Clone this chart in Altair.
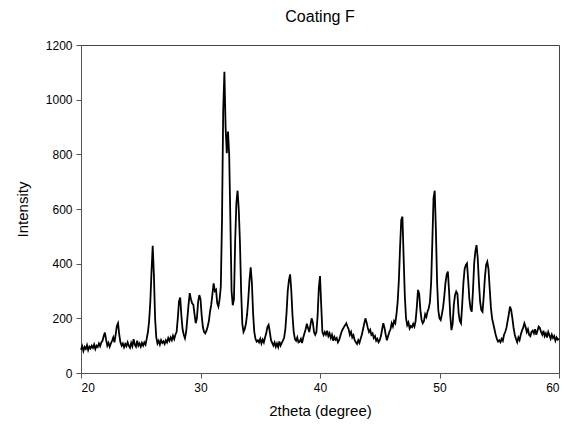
import altair as alt
import pandas as pd

x_start = 20.0
x_step = 0.1

intensity = [
    85, 98, 80, 95, 88, 102, 84, 96, 90, 100,
    92, 104, 88, 100, 95, 108, 98, 112, 118, 135,
    148, 122, 100, 110, 96, 108, 118, 130, 112, 140,
    172, 182, 140, 112, 100, 108, 94, 106, 98, 112,
    100, 92, 110, 98, 124, 104, 96, 118, 100, 108,
    96, 110, 100, 112, 104, 126, 150, 190, 260, 370,
    465, 360, 200, 130, 108, 118, 104, 120, 110, 116,
    106, 120, 112, 128, 118, 130, 120, 136, 124, 140,
    150, 200, 262, 276, 210, 160, 140, 127, 150, 200,
    250, 292, 270, 255, 250, 215, 182, 200, 260, 285,
    270, 210, 168, 150, 145, 155, 170, 190, 225, 250,
    290, 328, 300, 305, 255, 243, 270, 316, 560, 960,
    1102, 900, 804, 883, 800, 560, 300, 248, 270, 480,
    620, 667, 600, 480, 300, 180, 150, 160, 180, 215,
    270, 340, 387, 330, 220, 150, 125, 115, 120, 112,
    125, 108, 122, 112, 130, 145, 168, 176, 150, 120,
    110, 100, 112, 96, 108, 95, 115, 100, 110, 118,
    130, 160, 220, 300, 340, 361, 300, 210, 150, 125,
    118, 130, 112, 115, 125, 110, 130, 145, 160, 180,
    165, 150, 175, 200, 185, 150, 140, 150, 210, 310,
    355, 250, 150, 139, 150, 140, 155, 135, 145, 128,
    140, 118, 132, 122, 128, 112, 120, 135, 150, 160,
    168, 175, 182, 170, 160, 140, 150, 130, 138, 120,
    112, 106, 120, 110, 125, 140, 160, 180, 200, 185,
    165, 150, 158, 140, 145, 128, 135, 118, 125, 113,
    120, 135, 160, 182, 165, 140, 120, 135, 150, 160,
    182, 170, 190, 182, 215, 260, 340, 460, 560, 572,
    420, 280, 200, 175, 185, 163, 172, 168, 180, 170,
    190, 240, 304, 290, 230, 195, 182, 190, 215, 205,
    225, 237, 260, 330, 480, 640, 667, 520, 330, 230,
    200, 194, 215, 240, 280, 330, 360, 371, 300, 210,
    157, 180, 250, 285, 298, 290, 220, 190, 182, 250,
    330, 380, 395, 401, 340, 270, 235, 224, 300, 400,
    445, 468, 420, 330, 260, 230, 224, 280, 350, 395,
    407, 380, 310, 240, 200, 180, 160, 140, 125, 115,
    120, 113, 125, 118, 140, 150, 165, 190, 215, 243,
    230, 200, 165, 140, 125, 113, 130, 120, 140, 155,
    165, 182, 170, 150, 160, 140, 135, 150, 155, 145,
    160, 140, 155, 170, 165, 150, 140, 155, 135, 145,
    130, 150, 138, 125, 140, 128, 135, 118, 130, 122,
    125,
]

x_ticks = [20, 30, 40, 50, 60]
y_ticks = [0, 200, 400, 600, 800, 1000, 1200]

df = pd.DataFrame({
    "theta": [round(x_start + i * x_step, 2) for i in range(len(intensity))],
    "intensity": intensity,
})

font = "Liberation Sans"

chart = alt.Chart(df).mark_line(color="black", strokeWidth=1.8, strokeJoin="miter").encode(
    x=alt.X("theta:Q", scale=alt.Scale(domain=[20, 60], nice=False),
            axis=alt.Axis(values=x_ticks, format="d", title="2theta (degree)", grid=False,
                          domainColor="#555555", tickColor="#555555",
                          labelColor="black", titleColor="black",
                          labelFont=font, titleFont=font, labelFontSize=12,
                          titleFontSize=15, titleFontWeight="normal",
                          tickSize=5, labelPadding=4, titlePadding=10)),
    y=alt.Y("intensity:Q", scale=alt.Scale(domain=[0, 1200], nice=False),
            axis=alt.Axis(values=y_ticks, format="d", title="Intensity", grid=False,
                          domainColor="#555555", tickColor="#555555",
                          labelColor="black", titleColor="black",
                          labelFont=font, titleFont=font, labelFontSize=12,
                          titleFontSize=15, titleFontWeight="normal",
                          tickSize=5, labelPadding=4, titlePadding=15)),
).properties(
    width=478,
    height=328,
    title=alt.TitleParams("Coating F", font=font, fontSize=16, fontWeight="normal",
                          color="black", anchor="middle", offset=14),
    autosize=alt.AutoSizeParams(type="none"),
    padding={"left": 73, "top": 37, "right": 7, "bottom": 52},
).configure_view(stroke="#444444", strokeWidth=1)

chart.save("out.html", embed_options={"renderer": "svg", "actions": False})
